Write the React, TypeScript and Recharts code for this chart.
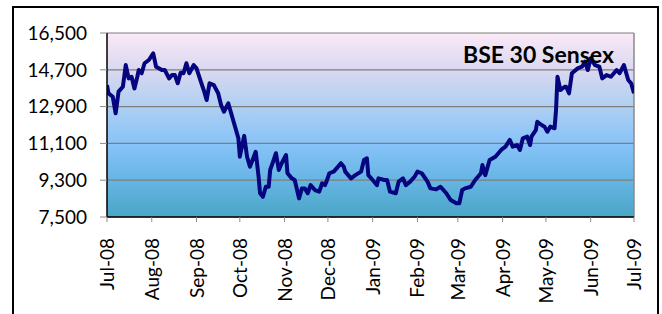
import React from "react";
import { LineChart, Line, XAxis, YAxis, CartesianGrid, ReferenceLine } from "recharts";

// Day offsets from 1 Jul 2008
const dayOffsets = [
  0, 1, 4, 6, 8, 11, 13, 15, 17, 19, 21, 22, 24, 26, 29, 32, 34, 38, 40, 43,
  45, 47, 49, 51, 53, 55, 57, 60, 62, 65, 67, 69, 71, 74, 77, 79, 81, 84, 87, 89,
  91, 92, 95, 97, 99, 103, 105, 106, 108, 110, 112, 113, 115, 117, 119, 121, 124, 125, 128, 130,
  133, 135, 137, 139, 141, 144, 147, 149, 151, 152, 154, 157, 159, 162, 164, 165, 169, 172, 176, 178,
  180, 181, 184, 187, 188, 192, 194, 196, 200, 202, 205, 207, 210, 213, 215, 218, 222, 224, 228, 231,
  235, 238, 242, 244, 246, 248, 252, 255, 259, 260, 262, 265, 269, 273, 276, 279, 281, 284, 286, 288,
  291, 293, 294, 297, 298, 301, 303, 305, 307, 310, 311, 312, 314, 317, 318, 320, 322, 326, 329, 331,
  333, 335, 338, 341, 343, 346, 349, 353, 355, 358, 361, 363, 365,
];

const sensexValues = [
  13950, 13550, 13380, 12570, 13630, 13870, 14930, 14280, 14360, 13790, 14360, 14690, 14530, 15020, 15180, 15500, 14850, 14690, 14690, 14280,
  14440, 14440, 14040, 14560, 14530, 15020, 14530, 14930, 14770, 14120, 13710, 13220, 14040, 13950, 13550, 12980, 12650, 13060, 12330, 11840,
  11350, 10450, 11470, 10450, 9960, 10690, 9470, 8660, 8490, 8980, 8980, 9800, 10200, 10620, 9800, 10130, 10530, 9640, 9390, 9310,
  8410, 8900, 8900, 8660, 9060, 8820, 8740, 9150, 9060, 9230, 9640, 9720, 9880, 10130, 9960, 9720, 9390, 9550, 9720, 10290,
  10370, 9550, 9310, 9060, 9390, 9310, 9310, 8740, 8660, 9230, 9390, 9060, 9230, 9470, 9720, 9640, 9230, 8900, 8850, 8980,
  8660, 8330, 8170, 8170, 8820, 8900, 8980, 9310, 9640, 10040, 9550, 10290, 10450, 10780, 10940, 11270, 10940, 11020, 10780, 11350,
  11430, 11020, 11430, 11750, 12160, 12000, 11920, 11670, 11920, 11840, 12730, 14360, 13710, 13870, 13870, 13550, 14530, 14770, 14850, 15100,
  14690, 15260, 14930, 14850, 14280, 14440, 14360, 14690, 14530, 14930, 14200, 14040, 13550,
];

const monthTicks = [0, 31, 62, 92, 123, 153, 184, 215, 243, 274, 304, 335, 365];
const monthLabels = [
  "Jul-08", "Aug-08", "Sep-08", "Oct-08", "Nov-08", "Dec-08", "Jan-09",
  "Feb-09", "Mar-09", "Apr-09", "May-09", "Jun-09", "Jul-09",
];
const yTicks = [7500, 9300, 11100, 12900, 14700, 16500];
const title = "BSE 30 Sensex";

const data = dayOffsets.map((d, i) => ({ day: d, value: sensexValues[i] }));

const FONT = "Lato, 'Open Sans', sans-serif";

const XTick = (props: any) => {
  const { x, payload } = props;
  const idx = monthTicks.indexOf(payload.value);
  const label = idx >= 0 ? monthLabels[idx] : "";
  return (
    <g transform={`translate(${x},238)`}>
      <text
        transform="rotate(-90)"
        textAnchor="end"
        dy={7}
        fontSize={19}
        fontFamily={FONT}
        fill="#000"
      >
        {label}
      </text>
    </g>
  );
};

const fmt = (v: number) => v.toLocaleString("en-US");

export default function App() {
  return (
    <div style={{ position: "absolute", left: 0, top: 0, width: 662, height: 314, overflow: "hidden", background: "#fff" }}>
      <div
        style={{
          position: "absolute",
          left: 12,
          top: 6,
          width: 647,
          height: 330,
          boxSizing: "border-box",
          border: "2px solid #000",
        }}
      />
      <div style={{ position: "absolute", left: 0, top: 0 }}>
        <LineChart width={662} height={314} data={data} margin={{ top: 33, right: 28, bottom: 0, left: 0 }}>
          <defs>
            <linearGradient id="plotBg" x1="0" y1="0" x2="0" y2="1">
              <stop offset="0%" stopColor="#fbe9f7" />
              <stop offset="20%" stopColor="#dad8f0" />
              <stop offset="40%" stopColor="#aecff2" />
              <stop offset="60%" stopColor="#88c3f8" />
              <stop offset="80%" stopColor="#66b5e4" />
              <stop offset="100%" stopColor="#4aa6c6" />
            </linearGradient>
          </defs>
          <CartesianGrid vertical={false} stroke="#7f7f7f" strokeWidth={1.2} fill="url(#plotBg)" fillOpacity={1} />
          <XAxis
            dataKey="day"
            type="number"
            domain={[0, 365]}
            ticks={monthTicks}
            interval={0}
            height={97}
            tickSize={5}
            tick={<XTick />}
            axisLine={{ stroke: "#000", strokeWidth: 1.5 }}
            tickLine={{ stroke: "#8a8a8a" }}
            allowDataOverflow
          />
          <YAxis
            type="number"
            domain={[7500, 16500]}
            ticks={yTicks}
            interval={0}
            width={107}
            tickSize={7}
            tickMargin={13}
            tickFormatter={fmt}
            tick={{ fontSize: 19, fontFamily: FONT, fill: "#000" }}
            axisLine={{ stroke: "#000", strokeWidth: 1.5 }}
            tickLine={{ stroke: "#8a8a8a" }}
          />
          <ReferenceLine x={365} stroke="#8a8a8a" strokeWidth={1.5} />
          <Line
            type="linear"
            dataKey="value"
            stroke="#05057f"
            strokeWidth={4}
            dot={false}
            isAnimationActive={false}
            strokeLinejoin="round"
          />
        </LineChart>
      </div>
      <div
        style={{
          position: "absolute",
          left: 463,
          top: 41,
          fontFamily: FONT,
          fontWeight: 700,
          fontSize: 23,
          lineHeight: "27px",
          color: "#000",
          whiteSpace: "nowrap",
        }}
      >
        {title}
      </div>
    </div>
  );
}
